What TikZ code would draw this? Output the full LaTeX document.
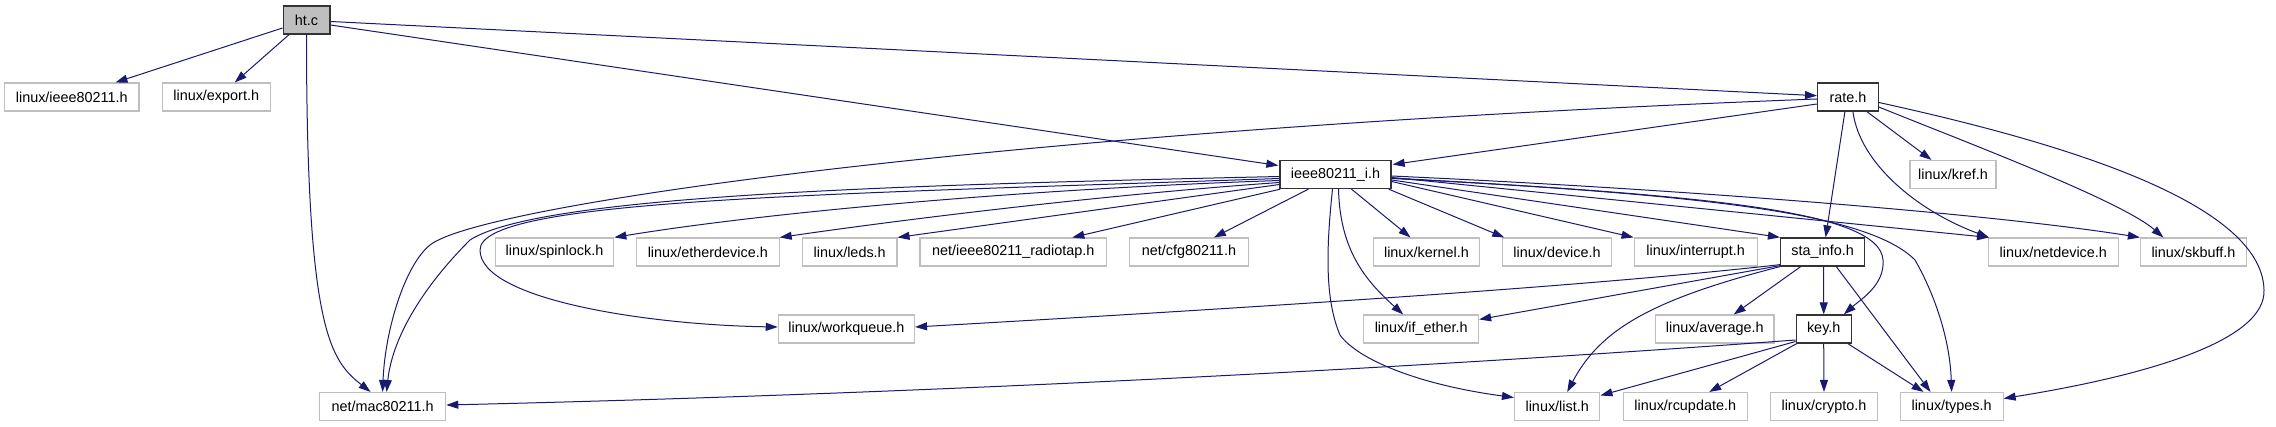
\documentclass[tikz,border=0pt]{standalone}
\usepackage{fontspec}
\setmainfont{Liberation Sans}
\usetikzlibrary{arrows.meta,calc}
\definecolor{edgeblue}{HTML}{191970}
\definecolor{boxgray}{HTML}{BFBFBF}
\definecolor{boxdark}{HTML}{333333}
\begin{document}
\begin{tikzpicture}[x=1pt,y=-1pt,
  hdr/.style={rectangle, draw=boxgray, line width=1.1pt, minimum height=28pt, inner sep=0pt,
    font=\fontsize{14.4}{16}\selectfont, text=black},
  doc/.style={hdr, draw=boxdark, line width=1.3pt},
  cur/.style={doc, fill=boxgray},
  dep/.style={draw=edgeblue, line width=1pt, -{Triangle[length=12pt,width=8pt]}},
]
\useasboundingbox (0,0) rectangle (2276,427);

% row 1
\node[cur, minimum width=46.7pt] (ht) at (306.5,20) {ht.c};
% row 2
\node[hdr, minimum width=134.3pt] (ieee80211) at (71.8,97) {linux/ieee80211.h};
\node[hdr, minimum width=108pt] (export) at (216.2,97) {linux/export.h};
\node[doc, minimum width=60.6pt] (rate) at (1847.9,97) {rate.h};
% row 3
\node[doc, minimum width=111pt] (ieee) at (1335.5,174.5) {ieee80211\_i.h};
\node[hdr, minimum width=86pt] (kref) at (1953,174.5) {linux/kref.h};
% row 4
\node[hdr, minimum width=118.6pt] (spinlock) at (554.5,252) {linux/spinlock.h};
\node[hdr, minimum width=142.7pt] (etherdevice) at (707.8,252) {linux/etherdevice.h};
\node[hdr, minimum width=94.6pt] (leds) at (849.7,252) {linux/leds.h};
\node[hdr, minimum width=186.7pt] (radiotap) at (1013.3,252) {net/ieee80211\_radiotap.h};
\node[hdr, minimum width=118.6pt] (cfg) at (1188.9,252) {net/cfg80211.h};
\node[hdr, minimum width=106.4pt] (kernel) at (1426.5,252) {linux/kernel.h};
\node[hdr, minimum width=108.4pt] (device) at (1557,252) {linux/device.h};
\node[hdr, minimum width=123.2pt] (interrupt) at (1695.7,252) {linux/interrupt.h};
\node[doc, minimum width=84.1pt] (sta) at (1822.6,252) {sta\_info.h};
\node[hdr, minimum width=129.6pt] (netdevice) at (2053.3,252) {linux/netdevice.h};
\node[hdr, minimum width=106pt] (skbuff) at (2193.4,252) {linux/skbuff.h};
% row 5
\node[hdr, minimum width=136.2pt] (workqueue) at (846.4,329) {linux/workqueue.h};
\node[hdr, minimum width=114.8pt] (ifether) at (1421.2,329) {linux/if\_ether.h};
\node[hdr, minimum width=118.6pt] (average) at (1714.7,329) {linux/average.h};
\node[doc, minimum width=55pt] (key) at (1823.7,329) {key.h};
% row 6
\node[hdr, minimum width=126.3pt] (mac) at (382.6,406.5) {net/mac80211.h};
\node[hdr, minimum width=85.4pt] (list) at (1557.2,406.5) {linux/list.h};
\node[hdr, minimum width=124pt] (rcu) at (1685.2,406.5) {linux/rcupdate.h};
\node[hdr, minimum width=107pt] (crypto) at (1824,406.5) {linux/crypto.h};
\node[hdr, minimum width=103pt] (types) at (1951.6,406.5) {linux/types.h};

% ht.c
\draw[dep] ($(ht.west)+(0,8)$) -- ($(ieee80211.north east)+(-24,0)$);
\draw[dep] ($(ht.south west)+(6.5,0)$) -- ($(export.north east)+(-36,0)$);
\draw[dep] (ht.south) .. controls (306.5,330) and (330,360) .. ($(mac.north)+(-12,0)$);
\draw[dep] ($(ht.east)+(0,5)$) -- ($(ieee.west)+(-1,-9)$);
\draw[dep] ($(ht.east)+(0,1.5)$) -- ($(rate.west)+(0,-1.3)$);

% rate.h
\draw[dep] ($(rate.west)+(0,7)$) -- ($(ieee.east)+(1,-10)$);
\draw[dep] ($(rate.west)+(0,2)$) .. controls (1000,130) and (480,205) .. (430,245)
  .. controls (405,265) and (385,330) .. (mac.north);
\draw[dep] ($(rate.south)+(-3,0)$) -- ($(sta.north)+(3,0)$);
\draw[dep] ($(rate.south)+(19,0)$) -- ($(kref.north west)+(22,0)$);
\draw[dep] ($(rate.south)+(5,0)$) .. controls (1860,165) and (1920,212) .. ($(netdevice.north west)+(1,0)$);
\draw[dep] ($(rate.east)+(0,10)$) .. controls (1960,140) and (2120,200) .. ($(skbuff.north)+(-30,0)$);
\draw[dep] ($(rate.east)+(0,5.5)$) .. controls (2050,140) and (2262,200) .. (2264,290)
  .. controls (2266,340) and (2150,375) .. ($(types.east)+(0,-8)$);

% ieee80211_i.h
\draw[dep] ($(ieee.west)+(0,2)$) .. controls (900,185) and (540,195) .. (470,240)
  .. controls (420,290) and (392,340) .. ($(mac.north)+(4,0)$);
\draw[dep] ($(ieee.west)+(0,4)$) .. controls (800,195) and (480,200) .. (480,250)
  .. controls (480,300) and (650,325) .. ($(workqueue.west)+(0,-2)$);
\draw[dep] ($(ieee.west)+(0,6)$) .. controls (1000,190) and (750,215) .. (spinlock.north east);
\draw[dep] ($(ieee.west)+(0,8)$) .. controls (1100,195) and (900,220) .. (etherdevice.north east);
\draw[dep] ($(ieee.west)+(0,10)$) -- (leds.north east);
\draw[dep] ($(ieee.south west)+(1,0)$) -- ($(radiotap.north)+(59,0)$);
\draw[dep] ($(ieee.south west)+(29,0)$) -- ($(cfg.north)+(25,0)$);
\draw[dep] ($(ieee.south)+(16,0)$) -- ($(kernel.north)+(-16,0)$);
\draw[dep] ($(ieee.south)+(-3,0)$) .. controls (1326,250) and (1325,300) .. (1340,335)
  .. controls (1358,360) and (1420,385) .. ($(list.west)+(0,-9)$);
\draw[dep] ($(ieee.south)+(3,0)$) .. controls (1340,250) and (1365,280) .. ($(ifether.north)+(-18,0)$);
\draw[dep] ($(ieee.south east)+(-3,0)$) -- ($(device.north west)+(2,0)$);
\draw[dep] ($(ieee.east)+(0,7)$) -- (interrupt.north west);
\draw[dep] ($(ieee.east)+(0,5.5)$) -- (sta.north west);
\draw[dep] ($(ieee.east)+(0,3)$) -- ($(netdevice.north west)+(1,0)$);
\draw[dep] ($(ieee.east)+(0,1.5)$) .. controls (1700,190) and (2000,215) .. (skbuff.north west);
\draw[dep] ($(ieee.east)+(0,3.5)$) .. controls (1700,195) and (1880,210) .. (1883,260)
  .. controls (1885,285) and (1860,300) .. ($(key.north east)+(-8,0)$);
\draw[dep] ($(ieee.east)+(0,4)$) .. controls (1720,195) and (1870,215) .. (1915,260)
  .. controls (1935,295) and (1950,340) .. (types.north);

% sta_info.h
\draw[dep] ($(sta.south)+(1,0)$) -- (key.north);
\draw[dep] ($(sta.south east)+(-29,0)$) -- ($(types.north west)+(31,0)$);
\draw[dep] ($(sta.south)+(-22,0)$) -- ($(average.north)+(19,0)$);
\draw[dep] (sta.south west) .. controls (1650,300) and (1600,330) .. ($(list.north)+(10,0)$);
\draw[dep] ($(sta.south west)+(0,-1)$) -- ($(ifether.north east)+(0,5)$);
\draw[dep] ($(sta.south west)+(0,-2)$) .. controls (1600,285) and (1300,305) .. ($(workqueue.east)+(0,-2)$);

% key.h
\draw[dep] (key.south) -- (crypto.north);
\draw[dep] ($(key.south east)+(-4,0)$) -- ($(types.north west)+(24,0)$);
\draw[dep] ($(key.south west)+(1,0)$) -- ($(rcu.north)+(24,0)$);
\draw[dep] ($(key.west)+(0,12.5)$) -- ($(list.east)+(0,-11)$);
\draw[dep] ($(key.west)+(0,11)$) .. controls (1500,362) and (1000,392) .. ($(mac.east)+(0,-1.5)$);
\end{tikzpicture}
\end{document}
